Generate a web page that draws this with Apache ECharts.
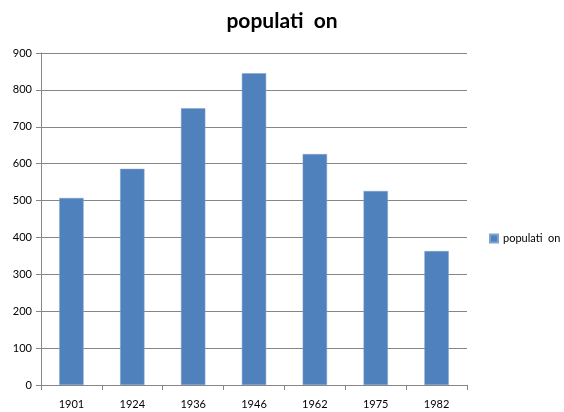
<!DOCTYPE html>
<html><head><meta charset="utf-8">
<script src="https://cdn.jsdelivr.net/npm/echarts@6/dist/echarts.min.js"></script>
<style>html,body{margin:0;padding:0;background:#fff}#c{width:564px;height:412px}</style>
</head><body><div id="c"></div>
<script>
const categories = ['1901','1924','1936','1946','1962','1975','1982'];
const population = [507, 586, 750, 845, 626, 526, 363];
const seriesName = 'populati  on';
const chart = echarts.init(document.getElementById('c'));
const font = 'Lato, "Open Sans", sans-serif';
chart.setOption({
  animation: false,
  title: { text: seriesName, left: 'center', top: 6,
    textStyle: { fontFamily: font, fontSize: 21, fontWeight: 'bold', color: '#000' } },
  legend: { left: 484, top: 228, orient: 'vertical', itemWidth: 8, itemHeight: 8,
    icon: 'rect', textStyle: { fontFamily: font, fontSize: 11, color: '#000' }, itemGap: 4 },
  grid: { left: 41, right: 97, top: 53, bottom: 27, containLabel: false },
  xAxis: { type: 'category', data: categories,
    axisLine: { lineStyle: { color: '#868686', width: 1 } },
    axisTick: { show: true, length: 5, lineStyle: { color: '#868686' } },
    axisLabel: { fontFamily: font, fontSize: 11, color: '#000', margin: 14 } },
  yAxis: { type: 'value', min: 0, max: 900, interval: 100,
    axisLine: { show: true, lineStyle: { color: '#868686', width: 1 } },
    axisTick: { show: true, length: 5, lineStyle: { color: '#868686' } },
    splitLine: { lineStyle: { color: '#868686', width: 1 } },
    axisLabel: { fontFamily: font, fontSize: 11, color: '#000', margin: 9 } },
  series: [{ name: seriesName, type: 'bar', data: population, barWidth: '40%',
    itemStyle: { color: '#4F81BD', borderColor: '#7fa3cf', borderWidth: 0.5 } }]
});
</script></body></html>
